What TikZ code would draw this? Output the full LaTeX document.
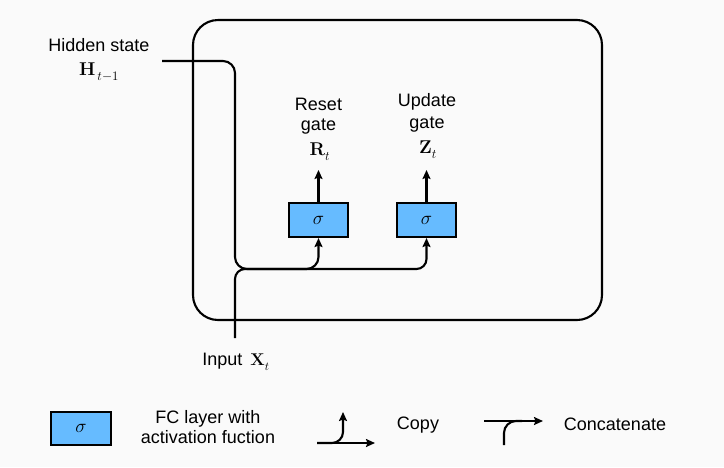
\RequirePackage{fix-cm}
\documentclass[tikz,border=0pt]{standalone}
\usepackage[no-math]{fontspec}
\setmainfont{Liberation Sans}
\usetikzlibrary{arrows.meta}
\definecolor{fcblue}{RGB}{102,187,255}
\definecolor{bgc}{RGB}{250,250,250}
\newcommand\lowsub[1]{\raisebox{-2.5pt}{$\scriptstyle #1$}}
\begin{document}
\begin{tikzpicture}[x=1pt,y=-1pt,line width=2.1pt,
  fc/.style={draw,fill=fcblue,minimum width=59pt,minimum height=34pt,inner sep=0pt,font=\fontsize{19}{21}\selectfont},
  lbl/.style={font=\fontsize{18}{20}\selectfont,align=center,inner sep=0pt},
  mlbl/.style={font=\fontsize{18.5}{20}\selectfont,inner sep=0pt},
  arr/.style={-{Stealth[length=9pt,width=8pt,inset=1.5pt]}}]
\fill[bgc] (0,0) rectangle (724,467);
\useasboundingbox (0,0) rectangle (724,467);
% cell
\node[draw,rounded corners=25pt,minimum width=409pt,minimum height=300pt,inner sep=0pt] (cell) at (397.5,170) {};
% gates
\node[fc] (r) at (318.5,220) {$\sigma$};
\node[fc] (z) at (426.5,220) {$\sigma$};
% labels
\node[lbl] (hs) at (99,45) {Hidden state};
\node[mlbl] (hsm) at (99,72) {$\mathbf{H}_{\,\lowsub{t-1}}$};
\node[lbl] (rs) at (318.5,104) {Reset};
\node[lbl] (rg) at (318.5,127) {gate};
\node[mlbl] (rm) at (320,152) {$\mathbf{R}_{\lowsub{t}}$};
\node[lbl] (us) at (427,102) {Update};
\node[lbl] (ug) at (427,125) {gate};
\node[mlbl] (zm) at (428,150) {$\mathbf{Z}_{\lowsub{t}}$};
\node[lbl] (inp) at (236,362) {Input {\fontsize{17}{19}\selectfont$\,\mathbf{X}_{\lowsub{t}}$}};
% coordinates
\coordinate (hin) at (162,61);
\coordinate (jx) at (235,269);
\coordinate (xin) at (235,338);
\coordinate (rtip) at (318.5,170);
\coordinate (ztip) at (426.5,170);
% connectors
\draw[arr,rounded corners=12pt] (hin) -| (jx) -| (r.south);
\draw[arr,rounded corners=10pt] (xin) -- (jx) -| (z.south);
\draw[arr] (r.north) -- (rtip);
\draw[arr] (z.north) -- (ztip);
% legend
\node[fc,minimum width=60pt,minimum height=33pt] (leg) at (81,428.5) {$\sigma$};
\node[lbl] (legt) at (208,427) {FC layer with\\activation fuction};
\coordinate (c1) at (317,443);
\coordinate (c2) at (375,443);
\coordinate (c3) at (343,412);
\draw[arr] (c1) -- (c2);
\draw[arr,rounded corners=11pt] (c1) -| (c3);
\node[lbl] (copy) at (418,425) {Copy};
\coordinate (d1) at (484,421);
\coordinate (d2) at (543,421);
\coordinate (d3) at (504,445);
\coordinate (d4) at (522,421);
\draw[arr] (d1) -- (d2);
\draw[rounded corners=12pt] (d3) |- (d4);
\node[lbl] (conc) at (615,424) {Concatenate};
\end{tikzpicture}
\end{document}
